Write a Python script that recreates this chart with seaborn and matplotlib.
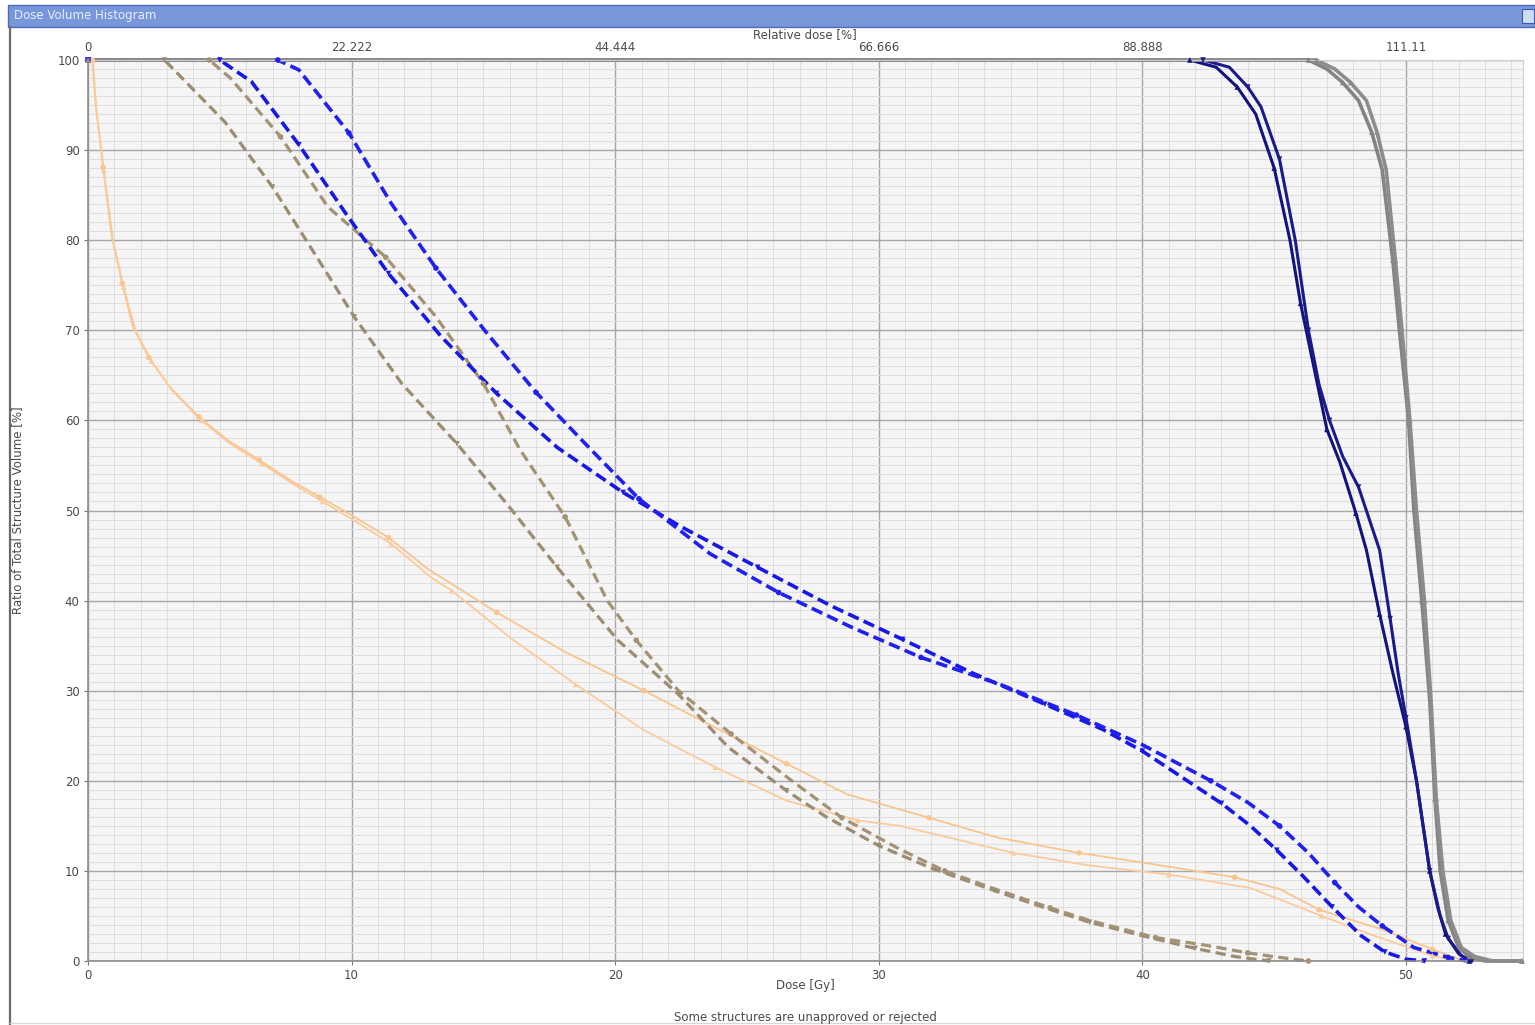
import numpy as np
import pandas as pd
import seaborn as sns
import matplotlib.pyplot as plt
from matplotlib.patches import Rectangle
from matplotlib.lines import Line2D

# ---- DVH curves: dose [Gy] vs ratio of total structure volume [%] ----
gray_1_dose = [0, 46.3, 47.0, 47.6, 48.2, 48.7, 49.1, 49.5, 49.75, 50.1, 50.3, 50.6, 50.9, 51.1, 51.3, 51.6, 52.0, 52.4, 53.0, 54.4]
gray_1_vol = [100, 100, 99, 97.5, 95.5, 92, 87.8, 77.8, 70, 60, 50, 40, 29, 18, 10, 4.5, 1.5, 0.5, 0, 0]
gray_2_dose = [0, 46.6, 47.3, 47.9, 48.5, 48.9, 49.25, 49.6, 49.85, 50.15, 50.4, 50.7, 50.95, 51.15, 51.4, 51.7, 52.1, 52.6, 53.3, 54.4]
gray_2_vol = [100, 100, 99, 97.5, 95.5, 92, 87.8, 77.8, 70, 60, 50, 40, 29, 18, 10, 4.5, 1.5, 0.5, 0, 0]

navy_1_dose = [0, 41.8, 42.8, 43.6, 44.3, 45.0, 45.6, 46.0, 46.5, 47.0, 47.5, 48.1, 48.5, 49.0, 49.5, 50.0, 50.4, 50.9, 51.2, 51.5, 52.0, 52.4]
navy_1_vol = [100, 100, 99.2, 97, 94, 88, 80, 73, 66, 59, 55.3, 49.7, 45.6, 38.5, 32, 26, 20, 10, 6, 3, 0.8, 0]
navy_2_dose = [0, 42.3, 43.3, 44.0, 44.5, 45.2, 45.8, 46.3, 46.7, 47.1, 47.6, 48.2, 49.0, 49.4, 49.7, 50.0, 50.4, 50.9, 51.3, 51.6, 52.1, 52.5]
navy_2_vol = [100, 100, 99.2, 97, 94.8, 89, 80, 70, 64, 60, 56, 52.6, 45.6, 38, 32, 27, 20, 10, 5, 2.5, 0.6, 0]

blue_1_dose = [0, 5.0, 6.2, 8.0, 9.7, 11.4, 13.4, 15.5, 17.8, 20.3, 22.5, 25.4, 28.2, 30.9, 33.6, 36.3, 38.5, 40.0, 41.5, 43.0, 44.1, 45.1, 46.1, 47.2, 48.3, 49.2, 50.0, 50.7]
blue_1_vol = [100, 100, 97.6, 90.6, 83.3, 76.3, 69.3, 63.0, 57.0, 52.0, 48.2, 43.7, 39.4, 35.7, 31.9, 28.5, 25.7, 23.3, 20.4, 17.5, 15.0, 12.3, 9.4, 6.0, 2.8, 1.0, 0.2, 0]
blue_2_dose = [0, 7.2, 8.0, 9.9, 11.5, 13.2, 15.1, 17.0, 19.1, 20.9, 23.6, 26.2, 29.0, 31.6, 34.6, 37.5, 40.0, 42.6, 44.0, 45.2, 46.3, 47.3, 48.2, 49.1, 50.3, 51.6, 52.3]
blue_2_vol = [100, 100, 98.9, 91.9, 84.1, 76.9, 69.8, 63.1, 56.7, 51.3, 45.2, 40.9, 37.0, 33.7, 30.7, 27.3, 24.0, 20.0, 17.6, 15.0, 12.0, 8.7, 6.0, 3.9, 1.5, 0.4, 0]

tan_1_dose = [0, 2.9, 5.2, 7.0, 8.6, 10.1, 11.9, 14.0, 15.9, 17.8, 20.1, 22.4, 24.3, 26.5, 28.0, 30.0, 32.0, 34.4, 36.0, 38.0, 40.0, 42.0, 43.5, 44.8]
tan_1_vol = [100, 100, 93.1, 85.9, 78.5, 71.5, 64.1, 57.4, 50.7, 43.7, 35.6, 29.6, 23.7, 18.9, 16.0, 12.8, 10.3, 7.8, 6.2, 4.3, 2.8, 1.4, 0.5, 0]
tan_2_dose = [0, 4.6, 5.4, 7.3, 9.1, 11.3, 13.2, 15.0, 16.4, 18.1, 19.7, 20.8, 22.4, 24.4, 26.7, 28.6, 30.8, 32.5, 34.4, 36.5, 38.0, 40.5, 42.3, 44.0, 45.2, 46.3]
tan_2_vol = [100, 100, 98, 91.5, 83.7, 78.1, 71.5, 64.1, 56.7, 49.3, 40, 35.6, 30, 25.2, 20, 15.9, 12.4, 10.0, 8.0, 5.9, 4.5, 2.6, 1.8, 0.9, 0.4, 0]

peach_1_dose = [0, 0.16, 0.3, 0.57, 0.9, 1.3, 1.7, 2.3, 3.1, 4.2, 5.3, 6.5, 7.7, 8.8, 10.1, 11.4, 12.9, 15.5, 18.1, 21.1, 23.8, 26.5, 28.8, 31.9, 34.5, 37.6, 40.5, 43.5, 45.2, 46.7, 49.1, 51.0, 52.2]
peach_1_vol = [100, 100, 94.8, 88.1, 80.4, 75.2, 70.4, 67, 63.7, 60.4, 57.8, 55.6, 53.3, 51.5, 49.3, 47, 43.5, 38.7, 34.3, 30, 25.9, 21.9, 18.5, 15.9, 13.7, 12, 10.7, 9.3, 8, 5.7, 3.5, 1.3, 0]
peach_2_dose = [0, 0.18, 0.32, 0.6, 0.95, 1.35, 1.8, 2.4, 3.2, 4.3, 5.4, 6.6, 7.8, 8.9, 10.2, 11.5, 13.0, 13.8, 16.1, 18.5, 21.1, 23.8, 26.5, 29.2, 30.8, 35.1, 38.0, 41.0, 44.1, 46.8, 48.8, 51.0, 51.9]
peach_2_vol = [100, 100, 94.5, 87.8, 80, 74.8, 70, 66.6, 63.3, 60, 57.4, 55.2, 52.9, 51, 48.7, 46.3, 42.6, 41.1, 35.7, 30.7, 25.6, 21.5, 17.8, 15.6, 15, 12, 10.6, 9.6, 8.1, 5, 2.8, 0.6, 0]

# Axis ticks
dose_ticks = [0, 10, 20, 30, 40, 50]
volume_ticks = [0, 10, 20, 30, 40, 50, 60, 70, 80, 90, 100]
relative_tick_labels = ["0", "22.222", "44.444", "66.666", "88.888", "111.11"]
prescription_gy = 45.0

# Drawing order: later entries are painted on top
curves = {
    "peach_1": (peach_1_dose, peach_1_vol), "peach_2": (peach_2_dose, peach_2_vol),
    "tan_1": (tan_1_dose, tan_1_vol), "tan_2": (tan_2_dose, tan_2_vol),
    "navy_1": (navy_1_dose, navy_1_vol), "navy_2": (navy_2_dose, navy_2_vol),
    "blue_1": (blue_1_dose, blue_1_vol), "blue_2": (blue_2_dose, blue_2_vol),
    "gray_1": (gray_1_dose, gray_1_vol), "gray_2": (gray_2_dose, gray_2_vol),
}
order = list(curves.keys())

frames = []
for name, (d, v) in curves.items():
    frames.append(pd.DataFrame({"structure": name, "dose": d, "volume": v, "idx": range(len(d))}))
df = pd.concat(frames, ignore_index=True)

palette = {
    "gray_1": "#848484", "gray_2": "#8c8c8c",
    "navy_1": "#13137e", "navy_2": "#1a1a8a",
    "peach_1": "#f9c48e", "peach_2": "#fbcb9c",
    "tan_1": "#9b8c72", "tan_2": "#a39274",
    "blue_1": "#1717e6", "blue_2": "#2020f0",
}
widths = {
    "gray_1": 2.6, "gray_2": 2.6, "navy_1": 2.2, "navy_2": 2.2,
    "peach_1": 1.3, "peach_2": 1.3, "tan_1": 2.3, "tan_2": 2.3,
    "blue_1": 2.6, "blue_2": 2.6,
}
dash_map = {
    "gray_1": "", "gray_2": "", "navy_1": "", "navy_2": "",
    "peach_1": "", "peach_2": "",
    "tan_1": (3.2, 1.7), "tan_2": (3.2, 1.7),
    "blue_1": (3.2, 1.5), "blue_2": (3.2, 1.5),
}
marker_map = {
    "gray_1": "^", "gray_2": "^", "navy_1": "^", "navy_2": "v",
    "peach_1": "o", "peach_2": "^", "tan_1": "v", "tan_2": "o",
    "blue_1": "v", "blue_2": "o",
}

sns.set_theme(style="white")
plt.rcParams["font.family"] = ["DejaVu Sans"]

W, H = 1535, 1025
fig = plt.figure(figsize=(W / 100, H / 100), dpi=100)
fig.patch.set_facecolor("white")

# Window title bar and frame
fig.patches.append(Rectangle((8 / W, 1 - 27 / H), 1 - 8 / W, 22 / H, transform=fig.transFigure,
                             facecolor="#7896da", edgecolor="#4d6cb6", lw=1.0, zorder=0))
fig.patches.append(Rectangle((1522 / W, 1 - 23 / H), 12 / W, 14 / H, transform=fig.transFigure,
                             facecolor="#cfdcf6", edgecolor="#3b5aa8", lw=0.8, zorder=1))
fig.text(14 / W, 1 - 16 / H, "Dose Volume Histogram", color="#e6eeff", fontsize=8.5,
         va="center", ha="left")
fig.add_artist(Line2D([10 / W, 10 / W], [0, 1 - 27 / H], transform=fig.transFigure,
                      color="#6a6a6a", lw=1.6))
fig.add_artist(Line2D([10 / W, 1], [2 / H, 2 / H], transform=fig.transFigure,
                      color="#d8d8d8", lw=1.0))

ax = fig.add_axes([88 / W, 1 - 961 / H, 1435 / W, 901 / H])
ax.set_facecolor("#f5f5f5")

sns.lineplot(data=df, x="dose", y="volume", hue="structure", size="structure", style="structure",
             hue_order=order, size_order=order, style_order=order,
             palette=palette, sizes=widths, dashes=dash_map,
             sort=False, estimator=None, legend=False, ax=ax, clip_on=False)

# Point markers along each curve
marks = df[(df["idx"] % 2 == 1) | (df["idx"] == 0)]
sns.scatterplot(data=marks, x="dose", y="volume", hue="structure", style="structure",
                hue_order=order, style_order=order, palette=palette, markers=marker_map,
                s=16, linewidth=0, legend=False, ax=ax, zorder=5, clip_on=False)

ax.set_xlim(0, 54.44)
ax.set_ylim(0, 100)
ax.set_xticks(dose_ticks)
ax.set_xticks(np.arange(0, 55, 1), minor=True)
ax.set_yticks(volume_ticks)
ax.set_yticks(np.arange(0, 101, 1), minor=True)
ax.set_xticklabels([str(t) for t in dose_ticks])
ax.set_yticklabels([str(t) for t in volume_ticks])
ax.grid(which="major", color="#a6a6a6", lw=1.0)
ax.grid(which="minor", color="#dedede", lw=0.7)
ax.set_axisbelow(True)
ax.tick_params(which="major", length=3, width=0.8, color="#777777", labelsize=8.5,
               labelcolor="#4a4a4a", pad=3, left=True, bottom=True)
ax.tick_params(which="minor", length=0)
for side in ["left", "bottom"]:
    ax.spines[side].set_color("#8c8c8c")
    ax.spines[side].set_linewidth(1.2)
for side in ["top", "right"]:
    ax.spines[side].set_color("#cfcfcf")
    ax.spines[side].set_linewidth(0.8)

ax.set_xlabel("Dose [Gy]", fontsize=8.5, color="#4a4a4a")
ax.xaxis.set_label_coords(0.5, -(979 - 961) / 901)
ax.set_ylabel("Ratio of Total Structure Volume [%]", fontsize=8.5, color="#4a4a4a")
ax.yaxis.set_label_coords((24 - 88) / 1435, 0.5)

# Relative dose scale on top
sec = ax.secondary_xaxis("top", functions=(lambda d: d * 100 / prescription_gy,
                                           lambda r: r * prescription_gy / 100))
sec.set_xticks([t * 100 / prescription_gy for t in dose_ticks])
sec.set_xticklabels(relative_tick_labels)
sec.tick_params(length=0, labelsize=8.5, labelcolor="#4a4a4a", pad=4)
for s in sec.spines.values():
    s.set_visible(False)
fig.text(805 / W, 1 - 35 / H, "Relative dose [%]", fontsize=8.5, color="#4a4a4a",
         ha="center", va="center")

fig.text(805 / W, 1 - 1018 / H, "Some structures are unapproved or rejected", fontsize=8.5,
         color="#4a4a4a", ha="center", va="center")

fig.savefig("out.png", dpi=100, facecolor="white")
